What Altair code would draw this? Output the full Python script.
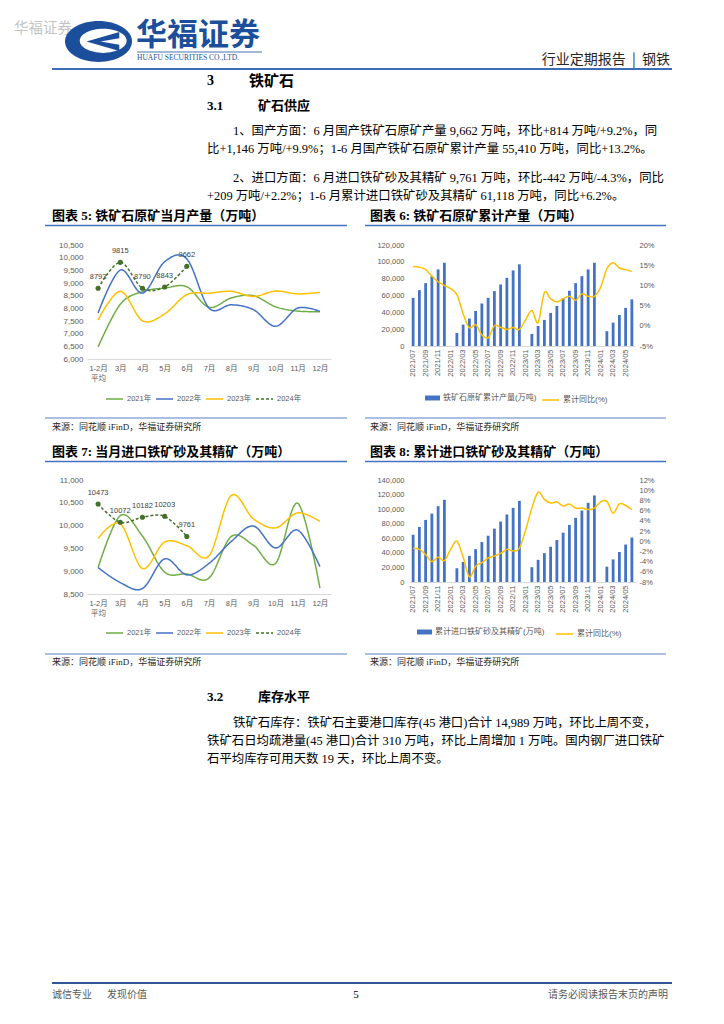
import altair as alt
import pandas as pd

SERIF = "Liberation Serif, Noto Sans CJK SC"
SANS = "Liberation Sans, Noto Sans CJK SC"
CJK = "Noto Sans CJK SC"
GREY = "#595959"

# ---------------- data ----------------
month_cats = ["1-2月|平均", "3月", "4月", "5月", "6月", "7月", "8月", "9月", "10月", "11月", "12月"]
years = ["2021年", "2022年", "2023年", "2024年"]
year_colors = ["#70AD47", "#4472C4", "#FFC000", "#44702B"]
year_dashes = [[1, 0], [1, 0], [1, 0], [3, 2]]

# 图表5 铁矿石原矿当月产量（万吨）
prod_2021 = [6480, 8160, 8660, 8800, 8850, 8040, 8410, 8500, 8060, 7890, 7870]
prod_2022 = [7820, 9510, 8600, 9840, 9950, 8010, 8140, 7950, 7290, 8010, 7880]
prod_2023 = [7540, 8670, 7510, 7780, 8540, 8600, 8670, 8470, 8680, 8570, 8630]
prod_2024 = [8793, 9815, 8790, 8843, 9662]
prod_ticks = [6000, 6500, 7000, 7500, 8000, 8500, 9000, 9500, 10000, 10500]

# 图表7 当月进口铁矿砂及其精矿（万吨）
imp_2021 = [9080, 10220, 9770, 8980, 8940, 8850, 9760, 9570, 9170, 10490, 8630]
imp_2022 = [9080, 8750, 8620, 9270, 8920, 9170, 9650, 9990, 9510, 9900, 9100]
imp_2023 = [9720, 10040, 9060, 9640, 9560, 9340, 10660, 10150, 9950, 10280, 10090]
imp_2024 = [10473, 10072, 10182, 10203, 9761]
imp_ticks = [8500, 9000, 9500, 10000, 10500, 11000]

months36 = ["2021/07", "2021/08", "2021/09", "2021/10", "2021/11", "2021/12",
            "2022/01", "2022/02", "2022/03", "2022/04", "2022/05", "2022/06",
            "2022/07", "2022/08", "2022/09", "2022/10", "2022/11", "2022/12",
            "2023/01", "2023/02", "2023/03", "2023/04", "2023/05", "2023/06",
            "2023/07", "2023/08", "2023/09", "2023/10", "2023/11", "2023/12",
            "2024/01", "2024/02", "2024/03", "2024/04", "2024/05", "2024/06"]
month_ticks = ["2021/07", "2021/09", "2021/11", "2022/01", "2022/03", "2022/05",
               "2022/07", "2022/09", "2022/11", "2023/01", "2023/03", "2023/05",
               "2023/07", "2023/09", "2023/11", "2024/01", "2024/03", "2024/05"]

# 图表6 铁矿石原矿累计产量（万吨）/ 累计同比(%)
cum_prod = [57200, 66400, 74700, 83000, 91000, 98900,
            None, 15500, 25400, 32600, 41700, 50500, 57200, 65200, 73100, 81000, 89800, 97000,
            None, 14300, 23800, 31000, 39300, 47700, 56800, 65600, 74700, 83000, 91000, 98900,
            None, 17586, 27800, 36800, 45300, 55410]
cum_prod_yoy = [14.7, 14.5, 13.9, 12.3, 10.9, 10.0,
                9.2, 7.7, 3.0, -0.5, 0.3, -2.3, -3.0, 0.0, -0.4, -0.9, -0.4, -0.9,
                1.5, 3.8, 0.8, 8.2, 6.7, 5.9, 6.7, 7.3, 6.3, 7.9, 7.3, 7.3,
                9.5, 14.1, 15.6, 14.3, 13.9, 13.4]
cum_prod_ticks = [0, 20000, 40000, 60000, 80000, 100000, 120000]
cum_prod_pct_ticks = [-5, 0, 5, 10, 15, 20]

# 图表8 累计进口铁矿砂及其精矿（万吨）/ 累计同比(%)
cum_imp = [64900, 75500, 85200, 93900, 104100, 112800,
           None, 18900, 27600, 35900, 45100, 54800, 63500, 73200, 82900, 92600, 101800, 111400,
           None, 20300, 30400, 39600, 48400, 57600, 67700, 78300, 88000, 98100, 108700, 118800,
           None, 20946, 31018, 41200, 51403, 61118]
cum_imp_yoy = [-1.4, -1.6, -2.6, -4.0, -3.1, -3.8,
               -1.6, 0.0, -3.1, -7.0, -4.9, -4.2, -3.3, -2.9, -2.4, -1.6, -1.9, -1.4,
               2.2, 6.5, 9.6, 8.2, 7.5, 7.7, 6.9, 7.3, 6.5, 6.5, 6.2, 6.5,
               7.7, 7.8, 5.5, 7.3, 7.0, 6.2]
cum_imp_ticks = [0, 20000, 40000, 60000, 80000, 100000, 120000, 140000]
cum_imp_pct_ticks = [-8, -6, -4, -2, 0, 2, 4, 6, 8, 10, 12]

bar_name6 = "铁矿石原矿累计产量(万吨)"
bar_name8 = "累计进口铁矿砂及其精矿(万吨)"
yoy_name = "累计同比(%)"

# ---------------- page texts ----------------
watermark = "华福证券"
logo_cn = "华福证券"
logo_en = "HUAFU SECURITIES CO.,LTD."
header_right = "行业定期报告\u00a0\u00a0|\u00a0\u00a0钢铁"
h1_num, h1_txt = "3", "铁矿石"
h2_num, h2_txt = "3.1", "矿石供应"
p1 = ["1、国产方面：6 月国产铁矿石原矿产量 9,662 万吨，环比+814 万吨/+9.2%，同",
      "比+1,146 万吨/+9.9%；1-6 月国产铁矿石原矿累计产量 55,410 万吨，同比+13.2%。"]
p2 = ["2、进口方面：6 月进口铁矿砂及其精矿 9,761 万吨，环比-442 万吨/-4.3%，同比",
      "+209 万吨/+2.2%；1-6 月累计进口铁矿砂及其精矿 61,118 万吨，同比+6.2%。"]
t5 = "图表 5: 铁矿石原矿当月产量（万吨）"
t6 = "图表 6: 铁矿石原矿累计产量（万吨）"
t7 = "图表 7: 当月进口铁矿砂及其精矿（万吨）"
t8 = "图表 8: 累计进口铁矿砂及其精矿（万吨）"
source = "来源：同花顺 iFinD，华福证券研究所"
h3_num, h3_txt = "3.2", "库存水平"
p3 = ["铁矿石库存：铁矿石主要港口库存(45 港口)合计 14,989 万吨，环比上周不变，",
      "铁矿石日均疏港量(45 港口)合计 310 万吨，环比上周增加 1 万吨。国内钢厂进口铁矿",
      "石平均库存可用天数 19 天，环比上周不变。"]
foot_left_a = "诚信专业"
foot_left_b = "发现价值"
foot_mid = "5"
foot_right = "请务必阅读报告末页的声明"

# ---------------- helpers ----------------
base = pd.DataFrame({"k": [0]})
OFF = 8
BODY = 12.4


def T(s, x, y, size=BODY, weight="normal", color="#000000", align="left", font=SERIF):
    return alt.Chart(base).mark_text(text=s, fontSize=size, fontWeight=weight, color=color,
                                     align=align, baseline="middle", font=font).encode(
        x=alt.value(x - OFF), y=alt.value(y - OFF))


def R(x1, x2, y, color, w):
    return alt.Chart(base).mark_rule(color=color, strokeWidth=w).encode(
        x=alt.value(x1 - OFF), x2=alt.value(x2 - OFF), y=alt.value(y - OFF))


def S(path, cx, cy, size, color):
    return alt.Chart(base).mark_point(shape=path, size=size, filled=True, color=color,
                                      opacity=1, strokeWidth=0).encode(
        x=alt.value(cx - OFF), y=alt.value(cy - OFF))


def spacer(w, h):
    return alt.Chart(base).mark_point(opacity=0).encode(
        x=alt.value(10), y=alt.value(10)).properties(width=w, height=h)


LOGO_BLUE = "#1B4F9C"
outer = "M-1,0A1,0.61,0,1,0,1,0A1,0.61,0,1,0,-1,0Z"
inner_white = "M-0.56,-0.02A0.70,0.36,0,1,0,0.84,-0.02A0.70,0.36,0,1,0,-0.56,-0.02Z"
chevron = "M0.62,-0.28L-0.36,0.0L0.62,0.28L0.62,0.10L0.06,0.0L0.62,-0.10Z"

TITLE_BLUE = "#4472C4"
SRC_BLUE = "#8FAADC"

page = [
    T(watermark, 14, 29, size=14.5, color="#C4C4C4", font=CJK),
    S(outer, 98.5, 41.5, 4489, LOGO_BLUE),
    S(inner_white, 98.5, 41.5, 4489, "#FFFFFF"),
    S(chevron, 98.5, 41.5, 4489, LOGO_BLUE),
    T(logo_cn, 136, 36, size=31, weight="bold", color=LOGO_BLUE, font=CJK),
    R(137, 262, 52, LOGO_BLUE, 0.8),
    T(logo_en, 137, 57.5, size=7.5, color=LOGO_BLUE, font="Liberation Serif"),
    T(header_right, 670, 60, size=14, color="#262626", align="right", font=CJK),
    R(52, 672, 69, "#3E6DB5", 1.8),
    T(h1_num, 207, 81, size=14, weight="bold"),
    T(h1_txt, 249, 81, size=15, weight="bold"),
    T(h2_num, 207, 106, size=13, weight="bold"),
    T(h2_txt, 258, 106, size=13, weight="bold"),
    T(p1[0], 233, 131),
    T(p1[1], 207, 148.5),
    T(p2[0], 233, 178),
    T(p2[1], 207, 195.5),
    T(t5, 52, 216, size=13, weight="bold"),
    T(t6, 370, 216, size=13, weight="bold"),
    R(45, 347, 225.5, TITLE_BLUE, 1.5),
    R(365, 666, 225.5, TITLE_BLUE, 1.5),
    R(45, 347, 418, SRC_BLUE, 1.5),
    R(365, 666, 418, SRC_BLUE, 1.5),
    T(source, 52, 427, size=9, color="#262626"),
    T(source, 370, 427, size=9, color="#262626"),
    T(t7, 52, 452, size=13, weight="bold"),
    T(t8, 370, 452, size=13, weight="bold"),
    R(45, 347, 461.5, TITLE_BLUE, 1.5),
    R(365, 666, 461.5, TITLE_BLUE, 1.5),
    R(45, 347, 654, SRC_BLUE, 1.5),
    R(365, 666, 654, SRC_BLUE, 1.5),
    T(source, 52, 662, size=9, color="#262626"),
    T(source, 370, 662, size=9, color="#262626"),
    T(h3_num, 207, 697, size=13, weight="bold"),
    T(h3_txt, 258, 697, size=13, weight="bold"),
    T(p3[0], 233, 723),
    T(p3[1], 207, 741),
    T(p3[2], 207, 759),
    R(52, 672, 983, "#2F5597", 1.8),
    T(foot_left_a, 52, 995, size=10, color=GREY, font=CJK),
    T(foot_left_b, 107, 995, size=10, color=GREY, font=CJK),
    T(foot_mid, 356, 995, size=11, color="#000000", align="center"),
    T(foot_right, 668, 995, size=10, color=GREY, align="right", font=CJK),
]
row_a = alt.layer(*page).properties(width=708, height=237)


# ---------------- monthly charts ----------------
def month_chart(series, ydom, yticks, h, leg_y):
    rows = []
    for yr, arr in zip(years, series):
        for m, v in zip(month_cats, arr):
            rows.append({"m": m, "year": yr, "v": v})
    df = pd.DataFrame(rows)
    x = alt.X("m:N", sort=month_cats,
              scale=alt.Scale(type="point", domain=month_cats, padding=0.5),
              axis=alt.Axis(title=None, labelExpr="split(datum.label, '|')", labelAngle=0,
                            labelOverlap=False, domain=True, domainColor="#D9D9D9", domainWidth=1,
                            ticks=False, grid=False, labelFontSize=7.5, labelColor=GREY,
                            labelFont=SANS, labelPadding=5, labelLineHeight=10))
    y = alt.Y("v:Q", scale=alt.Scale(domain=ydom, nice=False, zero=False),
              axis=alt.Axis(title=None, values=yticks, format=",.0f", domain=False, ticks=False,
                            grid=False, labelFontSize=8, labelColor=GREY, labelFont=SANS,
                            labelPadding=4))
    leg = alt.Legend(orient="none", legendX=18, legendY=leg_y, direction="horizontal",
                     title=None, symbolType="stroke", symbolSize=289, symbolStrokeWidth=1.5,
                     labelFontSize=7.5, labelColor=GREY, labelFont=SANS, labelOffset=3,
                     columnPadding=1, padding=0)
    lines = alt.Chart(df).mark_line(interpolate="cardinal", strokeWidth=1.5).encode(
        x=x, y=y,
        color=alt.Color("year:N", scale=alt.Scale(domain=years, range=year_colors), legend=leg),
        strokeDash=alt.StrokeDash("year:N", scale=alt.Scale(domain=years, range=year_dashes),
                                  legend=leg))
    d24 = df[df["year"] == years[3]]
    pts = alt.Chart(d24).mark_circle(size=26, opacity=1, color=year_colors[3]).encode(x=x, y=y)
    lab = alt.Chart(d24).mark_text(dy=-11, fontSize=7.5, color="#404040", font=SANS).encode(
        x=x, y=y, text=alt.Text("v:Q", format="d"))
    return alt.layer(lines, pts, lab).properties(width=244, height=h)


# ---------------- cumulative charts ----------------
def cum_chart(bars, yoy, ydom, yticks, pdom, pticks, h, bar_name, leg_bx, leg_lx, leg_y):
    dfb = pd.DataFrame({"m": months36, "v": bars, "s": bar_name}).dropna()
    dfl = pd.DataFrame({"m": months36, "p": yoy, "s": yoy_name})
    x = alt.X("m:N", sort=months36,
              scale=alt.Scale(domain=months36, paddingInner=0.55, paddingOuter=0.275),
              axis=alt.Axis(title=None, values=month_ticks, labelAngle=270, labelOverlap=False,
                            domain=True, domainColor="#D9D9D9", domainWidth=1, ticks=False,
                            grid=False, labelFontSize=7.5, labelColor=GREY, labelFont=SANS,
                            labelPadding=3))
    bar = alt.Chart(dfb).mark_bar().encode(
        x=x,
        y=alt.Y("v:Q", scale=alt.Scale(domain=ydom, nice=False, zero=True),
                axis=alt.Axis(title=None, values=yticks, format=",.0f", domain=False, ticks=False,
                              grid=False, labelFontSize=7.5, labelColor=GREY, labelFont=SANS,
                              labelPadding=6, orient="left")),
        fill=alt.Fill("s:N", scale=alt.Scale(domain=[bar_name], range=["#4472C4"]),
                      legend=alt.Legend(orient="none", legendX=leg_bx, legendY=leg_y,
                                        title=None, symbolType="M-1,-0.33L1,-0.33L1,0.33L-1,0.33Z",
                                        symbolSize=225, symbolStrokeWidth=0, labelFontSize=8,
                                        labelColor=GREY, labelFont=SANS, labelOffset=3,
                                        padding=0)))
    line = alt.Chart(dfl).mark_line(interpolate="cardinal", strokeWidth=1.5).encode(
        x=x,
        y=alt.Y("p:Q", scale=alt.Scale(domain=pdom, nice=False, zero=False),
                axis=alt.Axis(title=None, values=pticks, labelExpr="datum.value + '%'",
                              domain=False, ticks=False, grid=False, labelFontSize=7.5,
                              labelColor=GREY, labelFont=SANS, labelPadding=4, orient="right")),
        stroke=alt.Stroke("s:N", scale=alt.Scale(domain=[yoy_name], range=["#FFC000"]),
                          legend=alt.Legend(orient="none", legendX=leg_lx, legendY=leg_y,
                                            title=None, symbolType="stroke", symbolSize=289,
                                            symbolStrokeWidth=1.5, labelFontSize=8,
                                            labelColor=GREY, labelFont=SANS, labelOffset=3,
                                            padding=0)))
    return alt.layer(bar, line).resolve_scale(y="independent").properties(width=225, height=h)


chart5 = month_chart([prod_2021, prod_2022, prod_2023, prod_2024], [6000, 10500], prod_ticks, 114, 144.5)
chart7 = month_chart([imp_2021, imp_2022, imp_2023, imp_2024], [8500, 11000], imp_ticks, 114, 143.5)
chart6 = cum_chart(cum_prod, cum_prod_yoy, [0, 120000], cum_prod_ticks, [-5, 20],
                   cum_prod_pct_ticks, 101, bar_name6, 15, 131, 145.5)
chart8 = cum_chart(cum_imp, cum_imp_yoy, [0, 140000], cum_imp_ticks, [-8, 12],
                   cum_imp_pct_ticks, 102, bar_name8, 7, 145, 144.5)

IND = dict(color="independent", fill="independent", stroke="independent",
           strokeDash="independent")

row_b = alt.hconcat(spacer(79, 114), chart5, spacer(79, 114), chart6, spacing=0,
                    bounds="flush").resolve_scale(**IND).resolve_legend(**IND)
# nested concat rows count as zero height in a flush layout, so this gap spans row B too
row_c = spacer(708, 235)
row_d = alt.hconcat(spacer(79, 114), chart7, spacer(79, 114), chart8, spacing=0,
                    bounds="flush").resolve_scale(**IND).resolve_legend(**IND)

chart = alt.vconcat(row_a, row_b, row_c, row_d, spacing=0, bounds="flush").resolve_scale(
    **IND).resolve_legend(**IND).properties(padding=0, background="#FFFFFF").configure_view(
    strokeWidth=0)

chart.save("out.html", embed_options={"renderer": "svg", "actions": False})
